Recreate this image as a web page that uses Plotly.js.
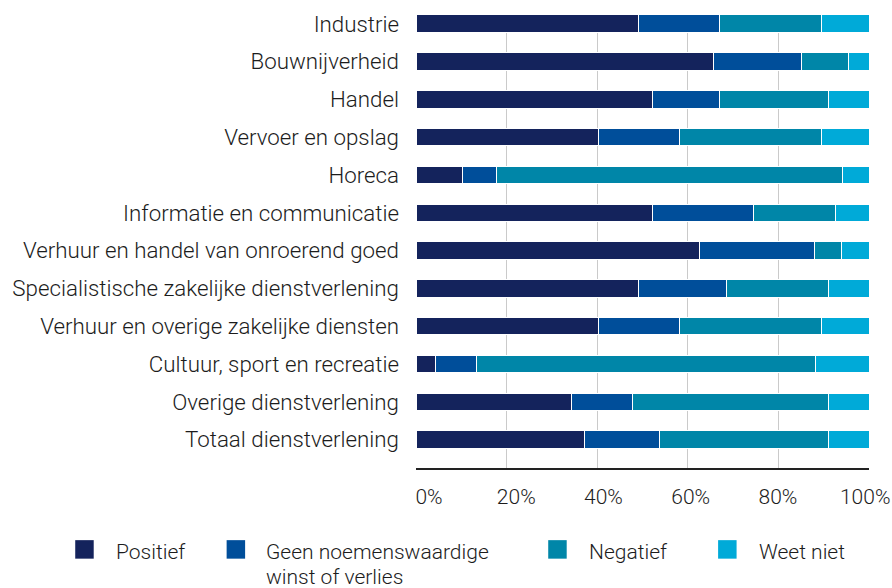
<!DOCTYPE html>
<html>
<head>
<meta charset="utf-8">
<script src="https://cdn.plot.ly/plotly-3.0.1.min.js"></script>
<style>html,body{margin:0;padding:0;background:#fff;}#chart{width:892px;height:588px;}</style>
</head>
<body>
<div id="chart"></div>
<script>
const categories = [
  "Industrie",
  "Bouwnijverheid",
  "Handel",
  "Vervoer en opslag",
  "Horeca",
  "Informatie en communicatie",
  "Verhuur en handel van onroerend goed",
  "Specialistische zakelijke dienstverlening",
  "Verhuur en overige zakelijke diensten",
  "Cultuur, sport en recreatie",
  "Overige dienstverlening",
  "Totaal dienstverlening"
];
const positief = [49.2, 65.7, 52.2, 40.3, 10.3, 52.2, 62.6, 49.2, 40.3, 4.3, 34.3, 37.3];
const geenWinst = [17.9, 19.4, 14.9, 17.9, 7.5, 22.4, 25.4, 19.4, 17.9, 9.1, 13.4, 16.5];
const negatief = [22.5, 10.4, 24.0, 31.4, 76.3, 18.0, 6.0, 22.5, 31.4, 74.7, 43.4, 37.3];
const weetNiet = [10.4, 4.5, 8.9, 10.4, 5.9, 7.4, 6.0, 8.9, 10.4, 11.9, 8.9, 8.9];
const seriesNames = ["Positief", "Geen noemenswaardige<br>winst of verlies", "Negatief", "Weet niet"];
const seriesColors = ["#14235c", "#004e9a", "#0086a8", "#00aad8"];
const tickValues = [0, 20, 40, 60, 80, 100];
const tickLabels = ["0%", "20%", "40%", "60%", "80%", "100%"];

const FONT = "Roboto, 'Liberation Sans', Arial, sans-serif";
const TEXT = "#1c1c1c";
const seriesValues = [positief, geenWinst, negatief, weetNiet];

const traces = seriesValues.map((vals, i) => ({
  type: "bar",
  orientation: "h",
  name: seriesNames[i],
  x: vals,
  y: categories,
  marker: {color: seriesColors[i], line: {color: "#ffffff", width: 1}},
  hoverinfo: "x+y+name"
}));
// empty trace to host the label axis
traces.push({type: "scatter", x: [], y: [], xaxis: "x2", yaxis: "y", showlegend: false, hoverinfo: "skip"});

// plot-area geometry (pixels)
const W = 892, H = 588;
const M = {l: 416, r: 22.7, t: 15, b: 120.3};
const pw = W - M.l - M.r, ph = H - M.t - M.b;
const px = x => (x - M.l) / pw;
const py = y => (H - M.b - y) / ph;

const shapes = [];
const annotations = [];
const legendSquareX = [75, 226.5, 548.3, 718.3];
const legendTextX = [114, 264.3, 587.3, 757.5];
const LEG_FONT = 21;
const LINE_STEP = 24.8;
const LEG_TOP = 537.4;
seriesNames.forEach((n, i) => {
  shapes.push({type: "rect", xref: "paper", yref: "paper",
    x0: px(legendSquareX[i]), x1: px(legendSquareX[i] + 18.5),
    y0: py(558.3), y1: py(539.8), fillcolor: seriesColors[i], line: {width: 0}});
  n.split("<br>").forEach((line, k) => {
    annotations.push({xref: "paper", yref: "paper", x: px(legendTextX[i]), y: py(LEG_TOP + k * LINE_STEP),
      xanchor: "left", yanchor: "top", align: "left", showarrow: false, text: line,
      font: {family: FONT, size: LEG_FONT, color: TEXT, weight: 300}});
  });
});

const layout = {
  width: W, height: H,
  margin: M,
  paper_bgcolor: "#ffffff", plot_bgcolor: "#ffffff",
  font: {family: FONT, size: 22, color: TEXT, weight: 300},
  barmode: "stack",
  bargap: 0.537,
  showlegend: false,
  xaxis: {
    range: [0, 100], tickvals: tickValues, showticklabels: false,
    showgrid: true, gridcolor: "#cacaca", gridwidth: 1,
    zeroline: false, showline: true, linecolor: "#222222", linewidth: 1.5,
    ticks: "", fixedrange: true
  },
  xaxis2: {
    overlaying: "x", anchor: "y", side: "bottom",
    range: [-2.98, 100.87], tickvals: tickValues, ticktext: tickLabels,
    showgrid: false, zeroline: false, showline: false, ticks: "",
    ticklabelstandoff: 14,
    tickfont: {family: FONT, size: 21, color: TEXT, weight: 300}
  },
  yaxis: {
    type: "category", categoryorder: "array", categoryarray: categories,
    range: [11.75, -0.23], showgrid: false, zeroline: false, showline: false,
    ticks: "", ticklabelstandoff: 16,
    tickfont: {family: FONT, size: 22.3, color: TEXT, weight: 300}
  },
  shapes: shapes,
  annotations: annotations
};

Plotly.newPlot("chart", traces, layout, {displayModeBar: false, staticPlot: true});
</script>
</body>
</html>
